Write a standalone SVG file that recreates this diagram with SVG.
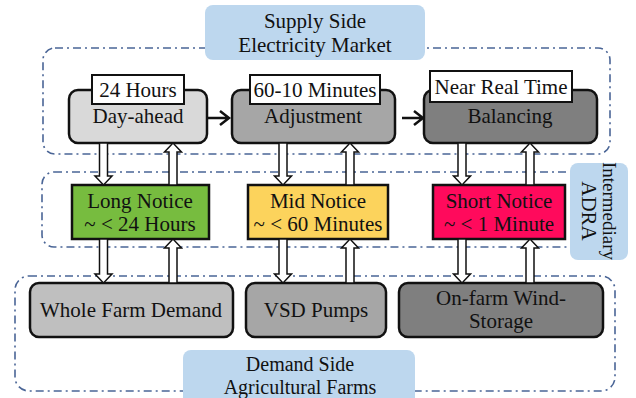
<svg xmlns="http://www.w3.org/2000/svg" width="636" height="398" viewBox="0 0 636 398">
<defs>
<style>
.t{font-family:"Liberation Serif","Times New Roman",serif;font-size:21px;fill:#111;text-anchor:middle}
.dash{fill:none;stroke:#4a6596;stroke-width:1.6;stroke-dasharray:8 4 2 4}
.lbl{fill:#bdd7ee;stroke:none}
.box{stroke:#111;stroke-width:2.5}
.tag{fill:#fff;stroke:#111;stroke-width:2}
.arr{fill:#fff;stroke:#111;stroke-width:1.5;stroke-linejoin:miter}
.h{fill:none;stroke:#111;stroke-width:2.5}
</style>
</defs>
<rect width="636" height="398" fill="#fff"/>

<!-- containers -->
<g id="supply-side">
<rect class="dash" x="43" y="48" width="567" height="106" rx="12"/>
<rect class="lbl" x="205" y="5" width="220" height="55" rx="8"/>
<text class="t" x="315" y="28">Supply Side</text>
<text class="t" x="315" y="52">Electricity Market</text>
</g>
<g id="adra">
<rect class="dash" x="42" y="172" width="548" height="75" rx="12"/>
<rect class="lbl" x="570" y="163" width="58" height="97" rx="8"/>
<g transform="translate(599,211) rotate(90)">
<text class="t" x="0" y="-4" style="font-size:19px">Intermediary</text>
<text class="t" x="0" y="17" style="font-size:21px">ADRA</text>
</g>
</g>
<g id="demand-side">
<rect class="dash" x="15" y="276" width="600" height="115" rx="14"/>
<rect class="lbl" x="183" y="350" width="232" height="60" rx="8"/>
<text class="t" x="300" y="371" style="font-size:20px">Demand Side</text>
<text class="t" x="300" y="394" style="font-size:20px">Agricultural Farms</text>
</g>

<!-- supply nodes -->
<g id="day-ahead">
<rect class="box" x="69" y="90" width="138" height="53" rx="9" fill="#d9d9d9"/>
<text class="t" x="138" y="123">Day-ahead</text>
<rect class="tag" x="92" y="75" width="92" height="29"/>
<text class="t" x="138" y="97">24 Hours</text>
</g>
<g id="adjustment">
<rect class="box" x="232" y="90" width="163" height="53" rx="9" fill="#a6a6a6"/>
<text class="t" x="313" y="123">Adjustment</text>
<rect class="tag" x="250" y="75" width="130" height="29"/>
<text class="t" x="315" y="97">60-10 Minutes</text>
</g>
<g id="balancing">
<rect class="box" x="424" y="90" width="173" height="53" rx="9" fill="#7f7f7f"/>
<text class="t" x="510" y="123">Balancing</text>
<rect class="tag" x="430" y="71" width="142" height="31"/>
<text class="t" x="501" y="94">Near Real Time</text>
</g>

<!-- ADRA nodes -->
<g id="long-notice">
<rect class="box" x="72" y="185" width="137" height="54" fill="#77bc3f"/>
<text class="t" x="140" y="208">Long Notice</text>
<text class="t" x="140" y="231">~ &lt; 24 Hours</text>
</g>
<g id="mid-notice">
<rect class="box" x="248" y="185" width="140" height="54" fill="#fcd35c"/>
<text class="t" x="318" y="208">Mid Notice</text>
<text class="t" x="318" y="231">~ &lt; 60 Minutes</text>
</g>
<g id="short-notice">
<rect class="box" x="433" y="185" width="132" height="54" fill="#ff0a5c"/>
<text class="t" x="499" y="208">Short Notice</text>
<text class="t" x="499" y="231">~ &lt; 1 Minute</text>
</g>

<!-- demand nodes -->
<g id="whole-farm-demand">
<rect class="box" x="30" y="283" width="203" height="54" rx="9" fill="#bfbfbf"/>
<text class="t" x="131" y="317">Whole Farm Demand</text>
</g>
<g id="vsd-pumps">
<rect class="box" x="246" y="283" width="140" height="54" rx="9" fill="#a6a6a6"/>
<text class="t" x="316" y="317">VSD Pumps</text>
</g>
<g id="wind-storage">
<rect class="box" x="399" y="283" width="204" height="54" rx="9" fill="#7f7f7f"/>
<text class="t" x="501" y="305">On-farm Wind-</text>
<text class="t" x="501" y="328">Storage</text>
</g>

<!-- connectors -->
<g id="connectors">
<path class="h" d="M207 118H228M220 111L229 118L220 125"/>
<path class="h" d="M402 118H422M414 111L423 118L414 125"/>
<!-- row 1 to row 2 -->
<polygon class="arr" points="99.5,143 107.5,143 107.5,176 112,176 103.5,185 95,176 99.5,176"/>
<polygon class="arr" points="169,185 177,185 177,152 181.5,152 173,143 164.5,152 169,152"/>
<polygon class="arr" points="279,143 287,143 287,176 291.5,176 283,185 274.5,176 279,176"/>
<polygon class="arr" points="346,185 354,185 354,152 358.5,152 350,143 341.5,152 346,152"/>
<polygon class="arr" points="458,143 466,143 466,176 470.5,176 462,185 453.5,176 458,176"/>
<polygon class="arr" points="526,185 534,185 534,152 538.5,152 530,143 521.5,152 526,152"/>
<!-- row 2 to row 3 -->
<polygon class="arr" points="99.5,239 107.5,239 107.5,274 112,274 103.5,283 95,274 99.5,274"/>
<polygon class="arr" points="169,283 177,283 177,248 181.5,248 173,239 164.5,248 169,248"/>
<polygon class="arr" points="279,239 287,239 287,274 291.5,274 283,283 274.5,274 279,274"/>
<polygon class="arr" points="346,283 354,283 354,248 358.5,248 350,239 341.5,248 346,248"/>
<polygon class="arr" points="458,239 466,239 466,274 470.5,274 462,283 453.5,274 458,274"/>
<polygon class="arr" points="526,283 534,283 534,248 538.5,248 530,239 521.5,248 526,248"/>
</g>
</svg>
